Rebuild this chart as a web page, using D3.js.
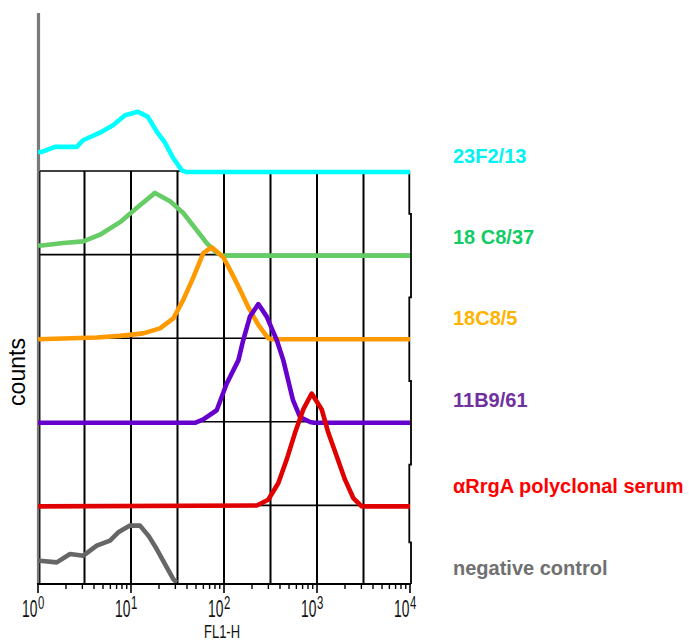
<!DOCTYPE html>
<html>
<head>
<meta charset="utf-8">
<script src="https://cdn.jsdelivr.net/npm/d3@7"></script>
<style>
  body { margin: 0; background: #fff; }
  svg { display: block; }
</style>
</head>
<body>
<script>
// Overlaid FL1-H histograms, one per antibody, stacked with vertical offsets.
const sampleNames = ["23F2/13", "18 C8/37", "18C8/5", "11B9/61", "αRrgA polyclonal serum", "negative control"];
const lineColors  = ["#00FFFF", "#66CC66", "#FF9900", "#6600CC", "#E00000", "#666666"];
const labelColors = ["#00F2F2", "#11CC66", "#FFB300", "#7030A0", "#FF0000", "#707070"];

// [FL1-H intensity, counts]
const hist23F2 = [[1,24],[1.10,24],[1.52,30],[2.61,30],[3.05,38],[4.64,47],[6.40,56],[8.62,68],[11.9,72],[15.2,66],[19.0,48],[23.2,35],[28.3,17],[35.3,2],[39,0],[10000,0]];
const hist18C8_37 = [[1,12],[1.10,12],[1.87,15],[3.07,17],[4.64,25],[7.62,40],[11.5,57],[18.1,75],[26.3,65],[36.5,51],[48.8,33],[65.2,15],[80,5],[95,0],[10000,0]];
const hist18C8_5 = [[1,0],[4.28,2],[7.62,4],[13.5,7],[20.5,13],[28.5,25],[36.5,47],[46.8,74],[59.9,103],[73.8,110],[98.3,98],[121,79],[149,59],[183,38],[234,17],[299,1],[328,0],[10000,0]];
const hist11B9 = [[1,0],[48.8,0],[59.9,4],[83.5,15],[107,47],[143,75],[161,99],[190,127],[234,142],[288,127],[369,99],[434,75],[552,27],[656,7],[841,1],[929,0],[10000,0]];
const histPolyclonal = [[1,0],[225,1],[299,8],[384,28],[472,56],[580,88],[712,116],[877,135],[1124,116],[1324,88],[1629,60],[2000,32],[2456,10],[3027,0],[10000,0]];
const histNegative = [[1,27],[1.05,27],[1.59,25],[2.21,35],[3.07,33],[4.28,45],[5.95,51],[7.30,61],[9.75,69],[12.5,69],[15.4,57],[18.9,41],[23.2,23],[28.5,5],[31,1]];

const histograms = [hist23F2, hist18C8_37, hist18C8_5, hist11B9, histPolyclonal, histNegative];

const decadeTicks = [1, 10, 100, 1000, 10000];
const decadeExponents = ["0", "1", "2", "3", "4"];
const gridValues = [Math.sqrt(10), 10, Math.sqrt(1000), 100, Math.sqrt(100000), 1000, Math.sqrt(1e7)];

const W = 689, H = 644;
const svg = d3.select("body").append("svg").attr("width", W).attr("height", H);

const x = d3.scaleLog().domain([1, 1e4]).range([38, 410]);
const plotBottom = 584;
const axisTop = 13;
// count scale: height above a panel's baseline
const h = d3.scaleLinear().domain([0, 100]).range([0, 83.6]);
// baselines of the offset panels (top five), the last sits on the axis
const panelY = d3.scaleLinear().domain([0, 4]).range([172, 506.4]);
const baselines = sampleNames.map((_, i) => i < 5 ? panelY(i) : 583.3);

const g = svg.append("g");

// vertical grid lines
g.selectAll("line.vgrid").data(gridValues).join("line")
  .attr("x1", d => x(d)).attr("x2", d => x(d))
  .attr("y1", baselines[0] - 1).attr("y2", plotBottom)
  .attr("stroke", "#000").attr("stroke-width", 2);

// horizontal frame line at each panel baseline
g.selectAll("line.hgrid").data(baselines.slice(0, 5)).join("line")
  .attr("x1", x(1)).attr("x2", x(1e4))
  .attr("y1", d => d - 1).attr("y2", d => d - 1)
  .attr("stroke", "#000").attr("stroke-width", 1.6);

// right frame edge: each panel frame is slightly offset
const mids = [baselines[0] - 1];
for (let i = 0; i < 4; i++) mids.push((baselines[i] + baselines[i + 1]) / 2);
mids.push(baselines[4] + 36);
mids.push(plotBottom);
let rp = "";
for (let i = 0; i < mids.length - 1; i++) {
  const xx = x(1e4) + (i % 2 === 0 ? -0.7 : 1);
  rp += (i === 0 ? "M" : "L") + xx + "," + mids[i] + "L" + xx + "," + mids[i + 1];
}
g.append("path").attr("d", rp).attr("fill", "none").attr("stroke", "#000").attr("stroke-width", 1.8);

// left axis
g.append("line").attr("x1", 38.5).attr("x2", 38.5).attr("y1", axisTop).attr("y2", plotBottom)
  .attr("stroke", "#7a7a7a").attr("stroke-width", 3.2);
g.append("line").attr("x1", 39.8).attr("x2", 39.8).attr("y1", baselines[0] - 1).attr("y2", plotBottom)
  .attr("stroke", "#111").attr("stroke-width", 1.3);

// histogram curves
const line = (i) => d3.line()
  .x(d => x(d[0]))
  .y(d => baselines[i] - h(d[1]));

g.selectAll("path.hist").data(histograms).join("path")
  .attr("class", "hist")
  .attr("d", (d, i) => line(i)(d))
  .attr("fill", "none")
  .attr("stroke", (d, i) => lineColors[i])
  .attr("stroke-width", 4.6)
  .attr("stroke-linejoin", "round");

// bottom axis
g.append("line").attr("x1", 37).attr("x2", 411).attr("y1", plotBottom).attr("y2", plotBottom)
  .attr("stroke", "#000").attr("stroke-width", 2);

const minorTicks = [];
[1, 10, 100, 1000].forEach(d => { for (let k = 2; k <= 9; k++) minorTicks.push(k * d); });
g.selectAll("line.minor").data(minorTicks).join("line")
  .attr("x1", d => x(d)).attr("x2", d => x(d))
  .attr("y1", plotBottom).attr("y2", plotBottom + 5)
  .attr("stroke", "#000").attr("stroke-width", 1.4);
g.selectAll("line.major").data(decadeTicks).join("line")
  .attr("x1", d => x(d)).attr("x2", d => x(d))
  .attr("y1", plotBottom).attr("y2", plotBottom + 9)
  .attr("stroke", "#000").attr("stroke-width", 1.6);

// decade labels 10^n, drawn in a condensed face
const tickLab = g.selectAll("g.tlab").data(decadeTicks).join("g")
  .attr("transform", d => `translate(${x(d)},617) scale(0.6,1)`);
tickLab.append("text")
  .attr("x", -1).attr("text-anchor", "end")
  .attr("font-family", "Liberation Sans, Arial, sans-serif").attr("font-size", 23)
  .attr("fill", "#111").text("10");
tickLab.append("text")
  .attr("x", 0).attr("y", -8).attr("text-anchor", "start")
  .attr("font-family", "Liberation Sans, Arial, sans-serif").attr("font-size", 19)
  .attr("fill", "#111").text((d, i) => decadeExponents[i]);

svg.append("text")
  .attr("transform", `translate(${x(100) - 2},638) scale(0.72,1)`)
  .attr("text-anchor", "middle")
  .attr("font-family", "Liberation Sans, Arial, sans-serif").attr("font-size", 18)
  .attr("fill", "#111").text("FL1-H");

svg.append("text")
  .attr("transform", "translate(25,372) rotate(-90)")
  .attr("text-anchor", "middle")
  .attr("font-family", "Liberation Sans, Arial, sans-serif").attr("font-size", 23)
  .attr("fill", "#000").text("counts");

// sample labels
const labelBaselines = [163, 244, 325, 407, 493, 575];
svg.selectAll("text.sample").data(sampleNames).join("text")
  .attr("x", 453).attr("y", (d, i) => labelBaselines[i])
  .attr("font-family", "Liberation Sans, Arial, sans-serif").attr("font-weight", "bold")
  .attr("font-size", 20)
  .attr("fill", (d, i) => labelColors[i]).text(d => d);
</script>
</body>
</html>
